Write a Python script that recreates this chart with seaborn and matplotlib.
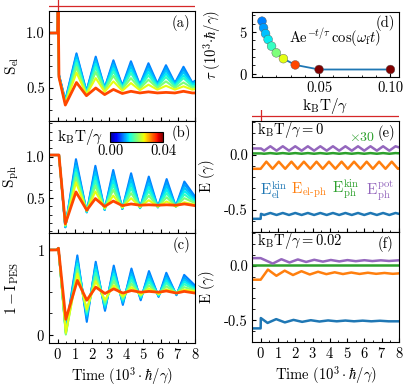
import numpy as np
import pandas as pd
import matplotlib
matplotlib.use('Agg')
import matplotlib.pyplot as plt
import seaborn as sns
from matplotlib.ticker import MultipleLocator

# temperatures (k_B T / gamma) and fitted decay times
temps = [0.01, 0.0111, 0.0125, 0.0143, 0.0167, 0.02, 0.025, 0.0333, 0.05, 0.1]
tau = [6.3, 5.5, 4.8, 4.1, 3.3, 2.5, 1.8, 1.05, 0.5, 0.5]

# panel (a): S_el, one row per temperature
ta = [-0.5, 0.0, 0.03, 0.08, 0.45, 1.1, 1.68, 2.22, 2.74, 3.25, 3.77, 4.27, 4.79, 5.29, 5.81, 6.31, 6.83, 7.33, 7.84, 8.0]
s_el = [
    [1.0, 1.0, 1.35, 0.62, 0.39, 0.815, 0.47, 0.785, 0.50, 0.752, 0.52, 0.743, 0.53, 0.725, 0.54, 0.707, 0.545, 0.693, 0.55, 0.565],
    [1.0, 1.0, 1.35, 0.62, 0.38, 0.80, 0.465, 0.765, 0.50, 0.73, 0.515, 0.72, 0.525, 0.70, 0.535, 0.685, 0.54, 0.67, 0.545, 0.555],
    [1.0, 1.0, 1.35, 0.61, 0.375, 0.78, 0.46, 0.745, 0.495, 0.71, 0.51, 0.695, 0.52, 0.675, 0.53, 0.66, 0.535, 0.645, 0.54, 0.55],
    [1.0, 1.0, 1.35, 0.61, 0.37, 0.755, 0.455, 0.72, 0.49, 0.68, 0.505, 0.665, 0.515, 0.645, 0.52, 0.63, 0.525, 0.615, 0.53, 0.535],
    [1.0, 1.0, 1.35, 0.60, 0.365, 0.73, 0.45, 0.69, 0.485, 0.65, 0.50, 0.635, 0.505, 0.615, 0.51, 0.60, 0.515, 0.59, 0.515, 0.52],
    [1.0, 1.0, 1.35, 0.60, 0.36, 0.69, 0.445, 0.645, 0.48, 0.61, 0.49, 0.59, 0.495, 0.575, 0.50, 0.56, 0.50, 0.55, 0.50, 0.505],
    [1.0, 1.0, 1.35, 0.60, 0.355, 0.64, 0.44, 0.59, 0.465, 0.56, 0.475, 0.545, 0.48, 0.53, 0.485, 0.52, 0.485, 0.515, 0.485, 0.49],
    [1.0, 1.0, 1.35, 0.60, 0.345, 0.55, 0.43, 0.50, 0.44, 0.487, 0.45, 0.47, 0.455, 0.465, 0.455, 0.46, 0.455, 0.47, 0.455, 0.455],
]

# panel (b): S_ph
tb = [-0.5, 0.08, 0.45, 1.07, 1.7, 2.2, 2.74, 3.24, 3.77, 4.28, 4.8, 5.31, 5.84, 6.35, 6.88, 7.38, 8.0]
s_ph = [
    [1.02, 1.02, 0.15, 0.97, 0.33, 0.89, 0.36, 0.84, 0.37, 0.80, 0.38, 0.76, 0.39, 0.73, 0.40, 0.70, 0.52],
    [1.02, 1.02, 0.15, 0.93, 0.33, 0.85, 0.36, 0.80, 0.37, 0.76, 0.38, 0.72, 0.39, 0.69, 0.40, 0.665, 0.50],
    [1.02, 1.02, 0.155, 0.89, 0.33, 0.81, 0.36, 0.76, 0.375, 0.72, 0.385, 0.68, 0.39, 0.65, 0.40, 0.625, 0.48],
    [1.02, 1.02, 0.16, 0.85, 0.335, 0.76, 0.365, 0.71, 0.38, 0.67, 0.385, 0.635, 0.395, 0.605, 0.40, 0.585, 0.47],
    [1.02, 1.02, 0.165, 0.81, 0.34, 0.71, 0.37, 0.66, 0.38, 0.62, 0.39, 0.585, 0.395, 0.56, 0.40, 0.545, 0.45],
    [1.02, 1.02, 0.17, 0.75, 0.345, 0.65, 0.375, 0.60, 0.385, 0.56, 0.39, 0.53, 0.395, 0.51, 0.40, 0.50, 0.44],
    [1.02, 1.02, 0.175, 0.69, 0.35, 0.58, 0.38, 0.53, 0.39, 0.50, 0.395, 0.475, 0.40, 0.46, 0.40, 0.45, 0.42],
    [1.02, 1.02, 0.19, 0.575, 0.355, 0.495, 0.40, 0.465, 0.41, 0.43, 0.415, 0.42, 0.415, 0.42, 0.415, 0.43, 0.41],
]

# panel (c): 1 - I_PES
tc = [-0.5, -0.05, 0.05, 0.48, 1.15, 1.7, 2.22, 2.76, 3.27, 3.8, 4.3, 4.84, 5.32, 5.88, 6.33, 6.92, 7.37, 8.0]
i_pes = [
    [1.0, 1.0, 1.02, 0.05, 0.935, 0.15, 0.86, 0.28, 0.815, 0.35, 0.78, 0.405, 0.75, 0.445, 0.73, 0.465, 0.705, 0.58],
    [1.0, 1.0, 1.02, 0.04, 0.90, 0.19, 0.83, 0.30, 0.78, 0.37, 0.745, 0.42, 0.72, 0.45, 0.70, 0.47, 0.675, 0.56],
    [1.0, 1.0, 1.02, 0.03, 0.87, 0.22, 0.80, 0.32, 0.75, 0.385, 0.715, 0.43, 0.69, 0.455, 0.67, 0.475, 0.65, 0.55],
    [1.0, 1.0, 1.02, 0.02, 0.84, 0.24, 0.77, 0.34, 0.72, 0.40, 0.68, 0.44, 0.655, 0.46, 0.64, 0.48, 0.625, 0.54],
    [1.0, 1.0, 1.02, 0.01, 0.80, 0.26, 0.73, 0.36, 0.68, 0.415, 0.645, 0.45, 0.62, 0.47, 0.61, 0.485, 0.595, 0.53],
    [1.0, 1.0, 1.02, 0.0, 0.76, 0.28, 0.68, 0.38, 0.63, 0.43, 0.60, 0.46, 0.58, 0.475, 0.57, 0.49, 0.56, 0.52],
    [1.0, 1.0, 1.02, 0.02, 0.72, 0.30, 0.63, 0.41, 0.58, 0.45, 0.56, 0.47, 0.545, 0.48, 0.535, 0.49, 0.53, 0.51],
    [1.0, 1.0, 1.02, 0.18, 0.64, 0.405, 0.56, 0.485, 0.54, 0.49, 0.52, 0.50, 0.51, 0.50, 0.515, 0.49, 0.51, 0.49],
]

# panel (e): energies at k_B T/gamma = 0
te = [-0.5, 0.0, 0.02, 0.2, 0.56, 0.92, 1.28, 1.64, 2.0, 2.37, 2.73, 3.09, 3.45, 3.82, 4.18, 4.54, 4.9, 5.27, 5.63, 5.99, 6.35, 6.72, 7.08, 7.44, 7.8, 8.0]
e_pot_ph = [0.06, 0.06, 0.06, 0.04, 0.08, 0.04, 0.08, 0.04, 0.08, 0.04, 0.08, 0.04, 0.08, 0.04, 0.08, 0.04, 0.08, 0.04, 0.08, 0.04, 0.08, 0.04, 0.08, 0.04, 0.08, 0.07]
e_kin_ph = [0.015, 0.015, 0.015, 0.012, 0.018, 0.012, 0.018, 0.012, 0.018, 0.012, 0.018, 0.012, 0.018, 0.012, 0.018, 0.012, 0.018, 0.012, 0.018, 0.012, 0.018, 0.012, 0.018, 0.012, 0.018, 0.016]
e_kin_el = [-0.58, -0.58, -0.535, -0.545, -0.527, -0.545, -0.527, -0.545, -0.527, -0.545, -0.527, -0.545, -0.527, -0.545, -0.527, -0.545, -0.527, -0.545, -0.527, -0.545, -0.527, -0.545, -0.527, -0.545, -0.527, -0.535]
te_elph = [-0.5, 0.0, 0.33, 0.69, 1.05, 1.42, 1.78, 2.14, 2.5, 2.87, 3.23, 3.59, 3.95, 4.32, 4.68, 5.04, 5.4, 5.77, 6.13, 6.49, 6.85, 7.22, 7.58, 7.94, 8.0]
e_elph = [-0.125, -0.125, -0.06, -0.125, -0.06, -0.125, -0.06, -0.125, -0.06, -0.125, -0.06, -0.125, -0.06, -0.125, -0.06, -0.125, -0.06, -0.125, -0.06, -0.125, -0.06, -0.125, -0.06, -0.125, -0.123]

# panel (f): energies at k_B T/gamma = 0.02
tf_pot = [-0.5, 0.0, 0.7, 1.2, 1.67, 2.15, 2.63, 3.1, 3.6, 4.06, 4.55, 5.02, 5.5, 6.0, 6.46, 6.95, 7.42, 8.0]
f_pot_ph = [0.07, 0.07, 0.02, 0.06, 0.03, 0.058, 0.035, 0.055, 0.038, 0.053, 0.04, 0.052, 0.042, 0.051, 0.043, 0.05, 0.044, 0.05]
tf_elph = [-0.5, 0.0, 0.42, 0.91, 1.39, 1.87, 2.36, 2.84, 3.32, 3.8, 4.28, 4.76, 5.24, 5.72, 6.2, 6.68, 7.16, 7.64, 8.0]
f_elph = [-0.128, -0.128, -0.035, -0.092, -0.045, -0.085, -0.05, -0.08, -0.055, -0.077, -0.06, -0.076, -0.062, -0.075, -0.064, -0.074, -0.066, -0.074, -0.07]
tf_kin = [-0.5, 0.0, 0.01, 0.4, 0.9, 1.4, 1.9, 2.4, 2.9, 3.4, 3.9, 4.4, 4.9, 5.4, 5.9, 6.4, 6.9, 7.4, 8.0]
f_kin_el = [-0.575, -0.575, -0.48, -0.525, -0.49, -0.52, -0.497, -0.515, -0.5, -0.512, -0.502, -0.51, -0.503, -0.51, -0.504, -0.51, -0.505, -0.51, -0.51]
tf_ph = [-0.5, 8.0]
f_kin_ph = [0.005, 0.005]

FS = 10.5
plt.rcParams.update({
    'font.family': 'serif', 'font.serif': ['cmr10'], 'mathtext.fontset': 'cm',
    'axes.formatter.use_mathtext': True, 'font.size': FS, 'axes.linewidth': 0.8,
    'xtick.direction': 'in', 'ytick.direction': 'in',
    'xtick.major.size': 3, 'ytick.major.size': 3, 'xtick.minor.size': 1.8, 'ytick.minor.size': 1.8,
    'xtick.labelsize': FS, 'ytick.labelsize': FS,
    'xtick.major.pad': 3, 'ytick.major.pad': 3,
})

cmap = plt.cm.jet
pal = {T: cmap(min(T / 0.04, 1.0)) for T in temps}

fig = plt.figure(figsize=(4.07, 3.86), dpi=100)
W, H = 407, 386
def box(x0, y0, x1, y1):
    return fig.add_axes([x0 / W, 1 - y1 / H, (x1 - x0) / W, (y1 - y0) / H])

ax_a = box(49, 11, 195, 121)
ax_b = box(49, 121, 195, 233)
ax_c = box(49, 233, 195, 343)
ax_d = box(252, 12, 399, 77)
ax_e = box(252, 121, 399, 232)
ax_f = box(252, 232, 399, 342)
strip1 = box(49, 0, 195, 11)
strip2 = box(252, 110, 399, 121)

def temp_curves(ax, t, vals):
    df = pd.concat([pd.DataFrame({'t': t, 'v': v, 'T': T}) for T, v in zip(temps, vals)])
    sns.lineplot(data=df, x='t', y='v', hue='T', palette=pal, estimator=None,
                 sort=False, legend=False, lw=1.5, ax=ax)
    ax.lines[-1].set_linewidth(2.0)

temp_curves(ax_a, ta, s_el)
temp_curves(ax_b, tb, s_ph)
temp_curves(ax_c, tc, i_pes)

for ax, lo, hi, maj, mnr, lab in [(ax_a, 0.2, 1.2, 0.5, 0.1, r'$\mathrm{S_{el}}$'),
                                  (ax_b, 0.08, 1.43, 0.5, 0.1, r'$\mathrm{S_{ph}}$'),
                                  (ax_c, -0.1, 1.2, 1, 0.25, r'$1-\mathrm{I_{PES}}$')]:
    ax.set_xlim(-0.5, 8)
    ax.set_ylim(lo, hi)
    ax.xaxis.set_major_locator(MultipleLocator(1))
    ax.xaxis.set_minor_locator(MultipleLocator(0.5))
    ax.yaxis.set_major_locator(MultipleLocator(maj))
    ax.yaxis.set_minor_locator(MultipleLocator(mnr))
    ax.set_ylabel(lab, fontsize=FS + 0.5)
    ax.set_xlabel('')
ax_a.yaxis.set_major_formatter(plt.FormatStrFormatter('%.1f'))
ax_b.yaxis.set_major_formatter(plt.FormatStrFormatter('%.1f'))
ax_a.tick_params(labelbottom=False)
ax_b.tick_params(labelbottom=False)
ax_c.set_xlabel(r'$\mathrm{Time}\ (10^3\cdot\hbar/\gamma)$', fontsize=FS, labelpad=2)
for ax in (ax_a, ax_b, ax_c):
    ax.yaxis.set_label_coords(-0.19, 0.5)

for ax, s in [(ax_a, '(a)'), (ax_b, '(b)'), (ax_c, '(c)')]:
    ax.text(0.97, 0.96, s, transform=ax.transAxes, ha='right', va='top', fontsize=FS)

# colorbar in (b)
cax = box(110, 132, 163, 142)
sm = plt.cm.ScalarMappable(norm=plt.Normalize(0, 0.04), cmap=cmap)
cb = fig.colorbar(sm, cax=cax, orientation='horizontal')
cb.set_ticks([0.0, 0.04])
cb.set_ticklabels(['0.00', '0.04'])
cax.tick_params(length=0, labelsize=FS, pad=2)
ax_b.text(0.055, 0.86, r'$\mathrm{k_BT}/\gamma$', transform=ax_b.transAxes, ha='left', va='center', fontsize=FS + 0.5)

# panel (d)
dd = pd.DataFrame({'T': temps, 'tau': tau})
sns.lineplot(data=dd, x='T', y='tau', color='#1f77b4', lw=1.3, ax=ax_d)
sns.scatterplot(data=dd, x='T', y='tau', hue='T', palette=pal, s=40, edgecolor='0.35',
                linewidth=0.3, legend=False, ax=ax_d, zorder=3)
ax_d.set_xlim(0.003, 0.106)
ax_d.set_ylim(-0.4, 7.4)
ax_d.xaxis.set_major_locator(MultipleLocator(0.05))
ax_d.xaxis.set_minor_locator(MultipleLocator(0.01))
ax_d.yaxis.set_major_locator(MultipleLocator(5))
ax_d.yaxis.set_minor_locator(MultipleLocator(1))
ax_d.xaxis.set_major_formatter(plt.FormatStrFormatter('%.2f'))
ax_d.set_xlabel(r'$\mathrm{k_BT}/\gamma$', fontsize=FS + 0.5, labelpad=1)
ax_d.set_ylabel(r'$\tau\ (10^3{\cdot}\hbar/\gamma)$', fontsize=FS)
ax_d.yaxis.set_label_coords(-0.2, 0.5)
ax_d.text(0.97, 0.95, '(d)', transform=ax_d.transAxes, ha='right', va='top', fontsize=FS)
ax_d.text(0.88, 0.6, r'$\mathrm{Ae}^{-t/\tau}\,\cos(\omega_\mathrm{f}t)$', transform=ax_d.transAxes,
          ha='right', va='center', fontsize=FS)

# panels (e) and (f)
C = {'el': '#1f77b4', 'elph': '#ff7f0e', 'ph': '#2ca02c', 'pot': '#9467bd'}
for ax, series in [(ax_e, [(te, e_kin_el, 'el'), (te_elph, e_elph, 'elph'), (te, e_kin_ph, 'ph'), (te, e_pot_ph, 'pot')]),
                   (ax_f, [(tf_kin, f_kin_el, 'el'), (tf_elph, f_elph, 'elph'), (tf_ph, f_kin_ph, 'ph'), (tf_pot, f_pot_ph, 'pot')])]:
    for t, v, k in series:
        sns.lineplot(x=t, y=v, color=C[k], lw=1.8, estimator=None, sort=False, ax=ax)
    ax.set_xlim(-0.5, 8)
    ax.set_ylim(-0.7, 0.31)
    ax.xaxis.set_major_locator(MultipleLocator(1))
    ax.xaxis.set_minor_locator(MultipleLocator(0.5))
    ax.yaxis.set_major_locator(MultipleLocator(0.5))
    ax.yaxis.set_minor_locator(MultipleLocator(0.1))
    ax.yaxis.set_major_formatter(plt.FormatStrFormatter('%.1f'))
    ax.set_ylabel(r'$\mathrm{E}\ (\gamma)$', fontsize=FS)
    ax.yaxis.set_label_coords(-0.24, 0.5)
ax_e.tick_params(labelbottom=False)
ax_f.set_xlabel(r'$\mathrm{Time}\ (10^3\cdot\hbar/\gamma)$', fontsize=FS, labelpad=2)

ax_e.text(0.035, 0.915, r'$\mathrm{k_BT}/\gamma=0$', transform=ax_e.transAxes, ha='left', va='center', fontsize=FS)
ax_e.text(0.975, 0.96, '(e)', transform=ax_e.transAxes, ha='right', va='top', fontsize=FS)
ax_e.text(0.84, 0.85, r'$\times 30$', transform=ax_e.transAxes, ha='right', va='center', fontsize=FS - 0.5, color=C['ph'])
for xpos, s, k in [(0.146, r'$\mathrm{E_{el}^{kin}}$', 'el'), (0.388, r'$\mathrm{E_{el\text{-}ph}}$', 'elph'),
                   (0.636, r'$\mathrm{E_{ph}^{kin}}$', 'ph'), (0.871, r'$\mathrm{E_{ph}^{pot}}$', 'pot')]:
    ax_e.text(xpos, 0.375, s, transform=ax_e.transAxes, ha='center', va='center', fontsize=FS + 0.5, color=C[k])
ax_f.text(0.035, 0.915, r'$\mathrm{k_BT}/\gamma=0.02$', transform=ax_f.transAxes, ha='left', va='center', fontsize=FS)
ax_f.text(0.96, 0.96, '(f)', transform=ax_f.transAxes, ha='right', va='top', fontsize=FS)

# red pulse markers above (a) and (e)
for st in (strip1, strip2):
    st.plot([-0.5, 8], [0, 0], color='#d62728', lw=0.9)
    st.plot([0, 0], [-1, 1], color='#d62728', lw=0.9)
    st.set_xlim(-0.5, 8)
    st.set_ylim(-1, 1)
    st.axis('off')

fig.savefig('out.png', dpi=100)
